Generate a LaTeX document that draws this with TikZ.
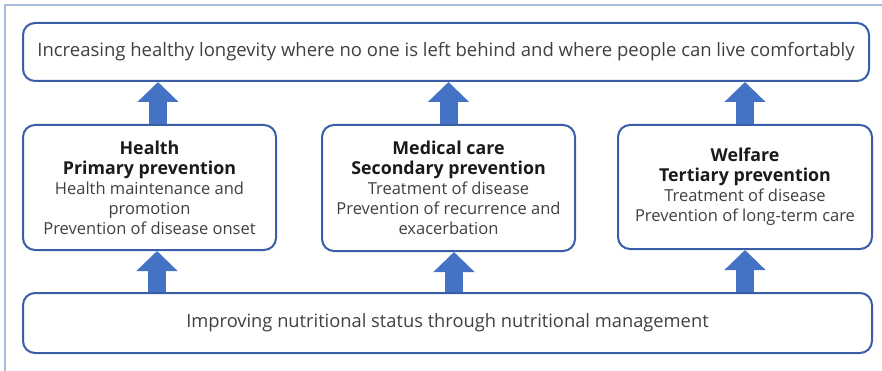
\documentclass[tikz,border=0pt]{standalone}
\usepackage{fontspec}
\setmainfont{Open Sans}
\usetikzlibrary{arrows.meta}
\definecolor{boxblue}{HTML}{3A5DA8}
\definecolor{arrowblue}{HTML}{4472C4}
\definecolor{framecol}{HTML}{A9BCDD}
\definecolor{bodytext}{HTML}{404040}
\definecolor{titletext}{HTML}{1A1A1A}
\tikzset{
  box/.style={draw=boxblue, line width=2pt, rounded corners=12pt, fill=white,
    inner sep=0pt, align=center, text=bodytext},
  barrow/.style={draw=arrowblue, line width=18pt,
    -{Triangle[width=40pt,length=20pt]}},
}
\newcommand{\ttl}[1]{{\fontsize{17.8}{20.5}\selectfont\bfseries\color{titletext}#1}}
\begin{document}
\begin{tikzpicture}[x=1pt,y=-1pt]
\useasboundingbox (0,0) rectangle (882,371);
\draw[framecol, line width=1.5pt] (5,371) -- (5,5) -- (882,5);
\node[box, minimum width=846pt, minimum height=58pt, font=\fontsize{18.5}{20}\selectfont] (top) at (446,52)
  {Increasing healthy longevity where no one is left behind and where people can live comfortably};
\node[box, minimum width=253pt, minimum height=125pt, font=\fontsize{16.5}{20}\selectfont] (b1) at (149.5,187.5)
  {\ttl{Health}\\ \ttl{Primary prevention}\\ Health maintenance and\\ promotion\\ Prevention of disease onset};
\node[box, minimum width=253pt, minimum height=126pt, font=\fontsize{16.5}{20}\selectfont] (b2) at (448.5,188)
  {\ttl{Medical care}\\ \ttl{Secondary prevention}\\ Treatment of disease\\ Prevention of recurrence and\\ exacerbation};
\node[box, minimum width=254pt, minimum height=124pt, font=\fontsize{16.5}{20}\selectfont] (b3) at (745,187)
  {\ttl{Welfare}\\ \ttl{Tertiary prevention}\\ Treatment of disease\\ Prevention of long-term care};
\node[box, minimum width=849pt, minimum height=60pt, font=\fontsize{18.3}{20}\selectfont] (bot) at (447.5,323)
  {Improving nutritional status through nutritional management};
% upper arrows
\draw[barrow] ([xshift=8.5pt]b1.north) -- ([xshift=8.5pt]b1.north |- top.south);
\draw[barrow] (b2.north) -- (b2.north |- top.south);
\draw[barrow] (b3.north) -- (b3.north |- top.south);
% lower arrows
\draw[barrow] ([xshift=7.5pt]b1.south |- bot.north) -- ([xshift=7.5pt]b1.south);
\draw[barrow] ([xshift=5.5pt]b2.south |- bot.north) -- ([xshift=5.5pt]b2.south);
\draw[barrow] (b3.south |- bot.north) -- (b3.south);
\end{tikzpicture}
\end{document}
